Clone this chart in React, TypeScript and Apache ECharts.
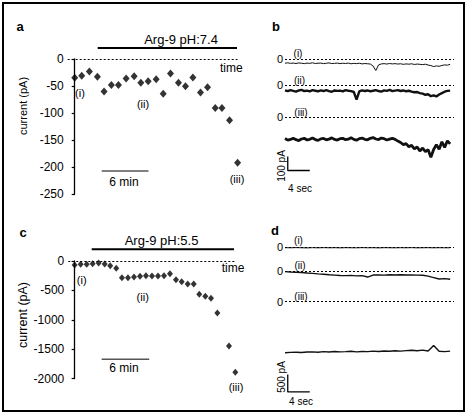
import React, { useEffect, useRef } from "react";
import * as echarts from "echarts";

// Panel a: Arg-9 pH 7.4 — time (min) vs current (pA)
const aTimeMin = [0, 0.9, 1.88, 2.91, 3.77, 4.71, 5.61, 6.6, 7.63, 8.49, 9.43, 10.46, 11.36, 12.3, 13.32, 14.22, 15.17, 16.15, 17.05, 18.04, 18.9, 19.88, 20.91];
const aCurrent = [-34.5, -31, -23, -33, -60, -48, -48, -36, -32, -44, -41, -37.5, -64, -27, -44, -50.5, -34, -62, -52, -90.5, -90.5, -113, -191.5];
const aTicks = { min: -250, max: 0, interval: 50 };
const aScaleBar = [[3.47, -207], [9.47, -207]]; // 6 min

// Panel c: Arg-9 pH 5.5
const cTimeMin = [0, 0.76, 1.52, 2.27, 3.03, 3.79, 4.49, 5.25, 5.97, 6.73, 7.49, 8.25, 9.0, 9.76, 10.52, 11.28, 12.03, 12.79, 13.51, 14.27, 15.03, 15.73, 16.49, 17.21, 18.01, 19.48, 20.28];
const cCurrent = [-68, -57, -57, -45, -34, -51, -79, -125, -283, -283, -272, -260, -249, -255, -255, -249, -215, -317, -351, -391, -391, -566, -600, -634, -884, -1444, -1891];
const cTicks = { min: -2000, max: 0, interval: 500 };
const cScaleBar = [[3.41, -1670], [9.41, -1670]]; // 6 min

// Panel b traces (pA), sampled every 0.5 s
const bStep = 0.5;
const b1 = [
  -28, -25, -29, -27, -30, -26, -28, -31, -27, -29,
  -25, -30, -28, -27, -31, -28, -26, -30, -29, -27,
  -31, -28, -30, -27, -32, -29, -31, -28, -33, -30,
  -32, -34, -48, -80, -40, -33, -31, -34, -30, -33,
  -31, -34, -32, -36, -33, -35, -32, -37, -34, -36,
  -38, -35, -41, -45, -52, -47, -50, -44, -40, -42, -36,
];
const b2 = [
  -38, -44, -36, -42, -47, -39, -35, -43, -40, -46,
  -37, -41, -45, -38, -43, -36, -44, -48, -39, -42,
  -40, -46, -37, -41, -44, -50, -105, -46, -38, -43,
  -39, -45, -41, -36, -43, -47, -38, -42, -35, -44,
  -40, -37, -43, -39, -45, -41, -47, -52, -50, -58,
  -62, -70, -66, -80, -74, -82, -68, -58, -48, -42, -40,
];
const b3 = [
  -152, -163, -158, -149, -160, -166, -155, -150, -162, -157,
  -148, -159, -165, -154, -151, -161, -156, -147, -158, -163,
  -153, -150, -160, -156, -146, -158, -164, -152, -149, -157,
  -161, -150, -145, -155, -159, -148, -153, -162, -156, -150,
  -158, -170, -180, -195, -188, -210, -200, -225, -212, -240,
  -220, -245, -232, -285, -230, -195, -228, -175, -215, -168, -190,
];
const bScaleBar = [[0.5, -280], [0.5, -380], [4.5, -380]]; // 100 pA, 4 s

// Panel d traces (pA), sampled every 1 s
const dStep = 1;
const d1 = [-12, -15, -10, -14, -18, -12, -16, -11, -15, -13, -17, -12, -14, -16, -11, -15, -13, -18, -12, -14, -16, -13, -15, -11, -17, -14, -12, -16, -13, -15, -14];
const d2 = [-20, -30, -35, -45, -60, -70, -85, -95, -110, -120, -130, -135, -128, -140, -135, -175, -118, -112, -120, -108, -115, -110, -118, -112, -120, -125, -150, -190, -230, -220, -240];
const d3 = [-1470, -1460, -1455, -1465, -1450, -1445, -1455, -1440, -1450, -1435, -1445, -1440, -1430, -1445, -1435, -1440, -1425, -1435, -1420, -1430, -1415, -1425, -1410, -1400, -1415, -1395, -1420, -1260, -1430, -1440, -1425];
const dScaleBar = [[0.5, -2100], [0.5, -2600], [4.5, -2600]]; // 500 pA, 4 s

const FONT = '"Liberation Sans", Arial, Helvetica, sans-serif';

const pairs = (xs: number[], ys: number[]) => ys.map((v, i) => [xs[i], v]);
const sampled = (ys: number[], step: number) => ys.map((v, i) => [i * step, v]);

const zeroLine = (withLabel: boolean) => ({
  silent: true,
  symbol: ["none", "none"],
  lineStyle: { color: "#000", type: [2, 2], width: 1 },
  label: withLabel
    ? { show: true, position: "start", formatter: "0", color: "#000", fontSize: 11, fontFamily: FONT, distance: 2 }
    : { show: false },
  data: [{ yAxis: 0 }],
});

function text(x: number, y: number, t: string, size: number, extra: any = {}) {
  return {
    type: "text",
    x,
    y,
    rotation: extra.rotation || 0,
    style: {
      text: t,
      fill: "#000",
      font: `${extra.bold ? "bold " : ""}${size}px ${FONT}`,
      align: extra.align || "center",
      verticalAlign: "middle",
    },
  };
}

export default function App() {
  const ref = useRef<HTMLDivElement>(null);
  useEffect(() => {
    if (!ref.current) return;
    const chart = echarts.init(ref.current, null, { renderer: "svg" });
    const hiddenY = (min: number, max: number, gi: number) => ({ type: "value", gridIndex: gi, min, max, show: false });
    const hiddenX = (min: number, max: number, gi: number) => ({ type: "value", gridIndex: gi, min, max, show: false });
    const shownY = (t: { min: number; max: number; interval: number }, gi: number) => ({
      type: "value",
      gridIndex: gi,
      min: t.min,
      max: t.max,
      interval: t.interval,
      axisLine: { show: true, lineStyle: { color: "#000", width: 1.3 } },
      axisTick: { show: true, length: 3, lineStyle: { color: "#000", width: 1.2 } },
      axisLabel: { color: "#000", fontSize: 12, fontFamily: FONT, margin: 4, formatter: (v: number) => String(v) },
      splitLine: { show: false },
    });

    const traceSeries = (data: number[][], gi: number, width: number, label: boolean) => ({
      type: "line",
      xAxisIndex: gi,
      yAxisIndex: gi,
      data,
      showSymbol: false,
      symbol: "none",
      lineStyle: { color: "#111", width },
      markLine: zeroLine(label),
    });
    const scaleSeries = (data: number[][], gi: number, color: string, width: number) => ({
      type: "line",
      xAxisIndex: gi,
      yAxisIndex: gi,
      data,
      symbol: "none",
      clip: false,
      lineStyle: { color, width },
    });

    const option: any = {
      animation: false,
      backgroundColor: "#fff",
      textStyle: { fontFamily: FONT },
      grid: [
        { left: 67.7, top: 59, width: 169.8, height: 135.3 },
        { left: 68.3, top: 261, width: 166.4, height: 117.6 },
        { left: 285, top: 56.5, width: 169, height: 16.8 },
        { left: 285, top: 82.2, width: 169, height: 23.8 },
        { left: 285, top: 114.5, width: 169, height: 58.8 },
        { left: 285, top: 243.8, width: 169, height: 10.4 },
        { left: 285, top: 267.5, width: 169, height: 17.35 },
        { left: 285, top: 298.2, width: 169, height: 97.2 },
      ],
      xAxis: [
        hiddenX(-0.9, 20.9, 0),
        hiddenX(-0.8, 20.2, 1),
        hiddenX(0, 30.7, 2),
        hiddenX(0, 30.7, 3),
        hiddenX(0, 30.7, 4),
        hiddenX(0, 30.7, 5),
        hiddenX(0, 30.7, 6),
        hiddenX(0, 30.7, 7),
      ],
      yAxis: [
        shownY(aTicks, 0),
        shownY(cTicks, 1),
        hiddenY(-100, 20, 2),
        hiddenY(-150, 20, 3),
        hiddenY(-400, 20, 4),
        hiddenY(-200, 100, 5),
        hiddenY(-400, 100, 6),
        hiddenY(-2700, 100, 7),
      ],
      series: [
        {
          type: "scatter",
          xAxisIndex: 0,
          yAxisIndex: 0,
          data: pairs(aTimeMin, aCurrent),
          symbol: "diamond",
          symbolSize: [7, 8],
          itemStyle: { color: "#000" },
          clip: false,
          markLine: zeroLine(false),
        },
        scaleSeries(aScaleBar, 0, "#555", 1.5),
        {
          type: "scatter",
          xAxisIndex: 1,
          yAxisIndex: 1,
          data: pairs(cTimeMin, cCurrent),
          symbol: "diamond",
          symbolSize: [6, 7],
          itemStyle: { color: "#000" },
          clip: false,
          markLine: zeroLine(false),
        },
        scaleSeries(cScaleBar, 1, "#555", 1.5),
        traceSeries(sampled(b1, bStep), 2, 1, true),
        traceSeries(sampled(b2, bStep), 3, 2.4, true),
        traceSeries(sampled(b3, bStep), 4, 2.8, true),
        scaleSeries(bScaleBar, 4, "#000", 1.3),
        traceSeries(sampled(d1, dStep), 5, 1, true),
        traceSeries(sampled(d2, dStep), 6, 1.4, true),
        traceSeries(sampled(d3, dStep), 7, 1.4, true),
        scaleSeries(dScaleBar, 7, "#000", 1.3),
      ],
      graphic: [
        { type: "rect", shape: { x: 3, y: 3, width: 461, height: 408 }, style: { fill: "none", stroke: "#000", lineWidth: 2 } },
        // panel letters
        text(20, 26, "a", 13, { bold: true }),
        text(276, 26, "b", 13, { bold: true }),
        text(23, 232, "c", 13, { bold: true }),
        text(275, 230, "d", 13, { bold: true }),
        // panel a annotations
        text(181, 39, "Arg-9 pH:7.4", 13),
        { type: "line", shape: { x1: 97.7, y1: 48, x2: 237, y2: 48 }, style: { stroke: "#000", lineWidth: 2 } },
        text(220, 68, "time", 12, { align: "left" }),
        text(80, 93, "(i)", 11),
        text(143, 104, "(ii)", 11),
        text(237, 179, "(iii)", 11),
        text(124, 182, "6 min", 12),
        text(23, 106, "current (pA)", 11, { rotation: Math.PI / 2 }),
        // panel c annotations
        text(161.5, 240, "Arg-9 pH:5.5", 13),
        { type: "line", shape: { x1: 91.7, y1: 249.3, x2: 234, y2: 249.3 }, style: { stroke: "#000", lineWidth: 2 } },
        text(221.7, 268, "time", 12, { align: "left" }),
        text(81.7, 279.7, "(i)", 11),
        text(142.7, 296.7, "(ii)", 11),
        text(236, 386.7, "(iii)", 11),
        text(124, 368, "6 min", 12),
        text(23, 315, "current (pA)", 12.5, { rotation: Math.PI / 2 }),
        // panel b annotations
        text(298, 53, "(i)", 10),
        text(299.5, 80, "(ii)", 10),
        text(301, 112, "(iii)", 10),
        text(281, 166, "100 pA", 10, { rotation: Math.PI / 2 }),
        text(300, 188, "4 sec", 10),
        // panel d annotations
        text(298.5, 240.3, "(i)", 10),
        text(300, 265, "(ii)", 10),
        text(301, 296, "(iii)", 10),
        text(281, 377, "500 pA", 10, { rotation: Math.PI / 2 }),
        text(301, 401, "4 sec", 10),
      ],
    };
    chart.setOption(option);
    return () => chart.dispose();
  }, []);
  return (
    <div
      ref={ref}
      style={{ position: "fixed", left: 0, top: 0, width: 468, height: 414, background: "#fff" }}
    />
  );
}
